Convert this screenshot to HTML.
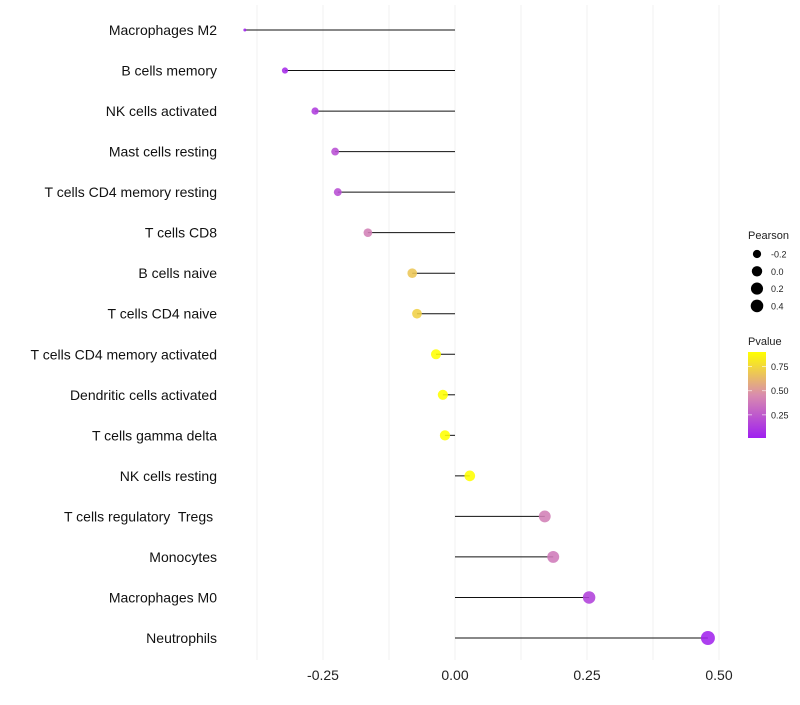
<!DOCTYPE html>
<html><head><meta charset="utf-8"><style>
body{margin:0;background:#fff}
text{font-family:"Liberation Sans",sans-serif;white-space:pre}
</style></head><body>
<svg id="chart" width="800" height="700" xmlns="http://www.w3.org/2000/svg"></svg>
<script>
const categories=["Macrophages M2","B cells memory","NK cells activated","Mast cells resting","T cells CD4 memory resting","T cells CD8","B cells naive","T cells CD4 naive","T cells CD4 memory activated","Dendritic cells activated","T cells gamma delta","NK cells resting","T cells regulatory  Tregs ","Monocytes","Macrophages M0","Neutrophils"];
const pearson=[-0.398,-0.322,-0.265,-0.227,-0.222,-0.165,-0.081,-0.072,-0.036,-0.023,-0.019,0.028,0.170,0.186,0.254,0.479];
const pvalue=[0.02,0.06,0.13,0.2,0.2,0.4,0.68,0.72,0.9,0.9,0.92,0.9,0.4,0.38,0.15,0.03];
const xTicks=[-0.25,0,0.25,0.5];
const xTickLabels=["-0.25","0.00","0.25","0.50"];
const sizeLegend=[-0.2,0.0,0.2,0.4];
const sizeLegendLabels=["-0.2","0.0","0.2","0.4"];
const colorLegend=[0.75,0.5,0.25];
const colorLegendLabels=["0.75","0.50","0.25"];

const NS="http://www.w3.org/2000/svg";
const svg=document.getElementById('chart');
function el(t,a,p){const e=document.createElementNS(NS,t);for(const k in a)e.setAttribute(k,a[k]);(p||svg).appendChild(e);return e;}
const xS=v=>455+v*528;
const yS=i=>30+i*(608/15);
const pMin=Math.min(...pearson),pMax=Math.max(...pearson);
const rS=v=>{const t=Math.max(0,(v-pMin)/(pMax-pMin));return 1.5+5.5*Math.sqrt(t);};
function lerp(a,b,t){return a.map((x,i)=>Math.round(x+(b[i]-x)*t));}
function col(p){const lo=[159,31,240],mid=[217,140,174],hi=[255,255,0];
 const t=Math.min(1,Math.max(0,(p-0.01)/0.89));
 const c=t<0.5?lerp(lo,mid,t/0.5):lerp(mid,hi,(t-0.5)/0.5);return `rgb(${c})`;}
for(let v=-0.375;v<=0.5001;v+=0.125){
 const g=el('line',{x1:xS(v),x2:xS(v),y1:5,y2:660,stroke:'#f2f2f2','stroke-width':1});
 
 
}
xTicks.forEach((v,i)=>{
 const t=el('text',{x:xS(v),y:680,'text-anchor':'middle','font-size':14,fill:'#222'});t.textContent=xTickLabels[i];
 
 
});
categories.forEach((c,i)=>{
 const y=yS(i);
 const t=el('text',{x:217,y:y+5,'text-anchor':'end','font-size':14,fill:'#111'});t.textContent=c;
 
 
 const l=el('line',{x1:xS(0),x2:xS(pearson[i]),y1:y,y2:y,stroke:'#111','stroke-width':1});
 
 
 const d=el('circle',{cx:xS(pearson[i]),cy:y,r:rS(pearson[i]),fill:col(pvalue[i]),'fill-opacity':0.88});
 
 
});
let tt=el('text',{x:748,y:239,'font-size':11,fill:'#222'});tt.textContent='Pearson';


sizeLegend.forEach((v,i)=>{
 const y=254+i*17.3;
 const c=el('circle',{cx:757,cy:y,r:Math.min(6.3,rS(v)),fill:'#000'});
 
 
 const t=el('text',{x:771,y:y+3.5,'font-size':9,fill:'#222'});t.textContent=sizeLegendLabels[i];
 
 
});
tt=el('text',{x:748,y:345,'font-size':11,fill:'#222'});tt.textContent='Pvalue';


const defs=el('defs',{});const gr=el('linearGradient',{id:'pg',x1:0,y1:1,x2:0,y2:0},defs);
[0,0.5,1].forEach(o=>el('stop',{offset:o,'stop-color':col(0.01+o*0.89)},gr));
const bar=el('rect',{x:748,y:352,width:18,height:86,fill:'url(#pg)'});


const pY=p=>438-(p-0.01)/0.89*86;
colorLegend.forEach((v,i)=>{
 const y=pY(v);
 el('line',{x1:748,x2:752,y1:y,y2:y,stroke:'#fff','stroke-opacity':0.6});
 el('line',{x1:762,x2:766,y1:y,y2:y,stroke:'#fff','stroke-opacity':0.6});
 const t=el('text',{x:771,y:y+3.5,'font-size':9,fill:'#222'});t.textContent=colorLegendLabels[i];
 
 
});
</script>
</body></html>
